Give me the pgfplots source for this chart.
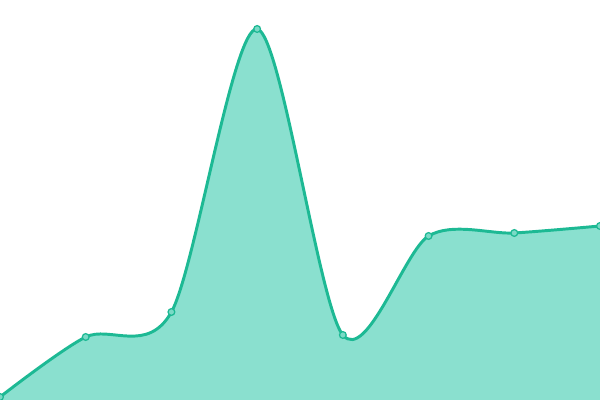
\documentclass[border=0pt]{standalone}
\usepackage{pgfplots}
\pgfplotsset{compat=1.18}
\definecolor{linec}{HTML}{1DB994}
\definecolor{fillc}{HTML}{8AE0CF}
\begin{document}
\begin{tikzpicture}
\begin{axis}[
  scale only axis, width=15cm, height=10cm,
  xmin=0, xmax=7, ymin=0, ymax=400,
  hide axis, at={(0,0)}, anchor=south west,
]
\addplot[smooth, tension=0.5, draw=none, fill=fillc] coordinates {
(0,3) (1,63) (2,88) (3,371) (4,65) (5,164) (6,167) (7,174)
} \closedcycle;
\addplot[smooth, tension=0.5, draw=linec, line width=2.1pt,
  mark=*, mark size=2.4pt, mark options={fill=fillc!85!linec, draw=linec, line width=0.9pt}] coordinates {
(0,3) (1,63) (2,88) (3,371) (4,65) (5,164) (6,167) (7,174)
};
\end{axis}
\pgfresetboundingbox
\useasboundingbox (0,0) rectangle (15cm,10cm);
\end{tikzpicture}
\end{document}
